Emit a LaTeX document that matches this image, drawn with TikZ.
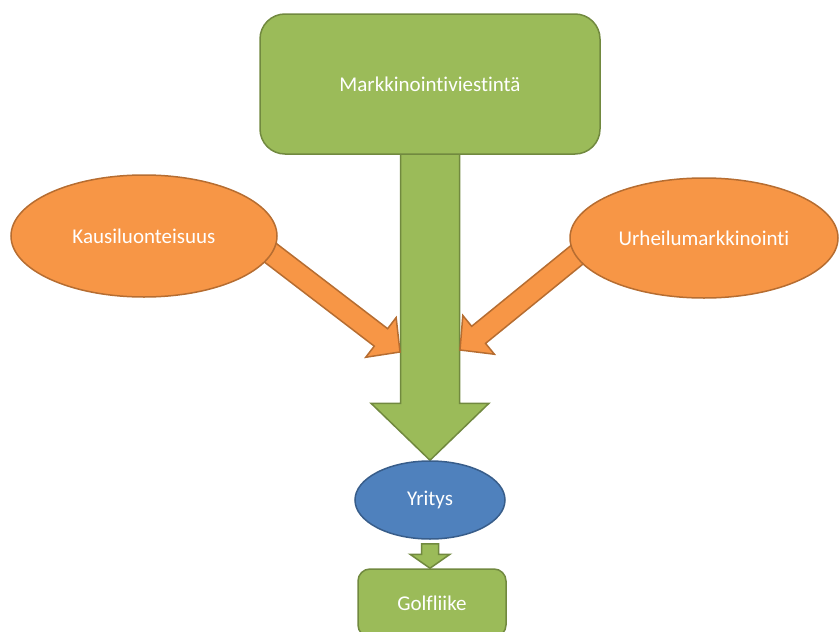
\documentclass[tikz,border=0pt]{standalone}
\usepackage{fontspec}
\setmainfont[Ligatures={NoCommon,NoContextual}]{Carlito}
\usetikzlibrary{shapes.geometric,calc,backgrounds}

\definecolor{leafgreen}{HTML}{9BBB59}
\definecolor{leafdark}{HTML}{71893F}
\definecolor{peach}{HTML}{F79646}
\definecolor{peachdark}{HTML}{B66D31}
\definecolor{steelblue}{HTML}{4F81BD}
\definecolor{steeldark}{HTML}{385D8A}

% block arrow: style, from, to, half shaft, half head, head length
\newcommand{\blockarrow}[6]{%
  \path[#1] let \p1=#2, \p2=#3, \n1={atan2(\y2-\y1,\x2-\x1)}, \n2={veclen(\x2-\x1,\y2-\y1)} in
    [shift={(\p1)}, rotate=\n1]
    (0pt,-#4) -- ({\n2-#6},-#4) -- ({\n2-#6},-#5) -- (\n2,0pt)
    -- ({\n2-#6},#5) -- ({\n2-#6},#4) -- (0pt,#4) -- cycle;
}

\tikzset{
  greenbox/.style={draw=leafdark, fill=leafgreen, line width=1.5pt, text=white},
  orangeell/.style={ellipse, draw=peachdark, fill=peach, line width=1.5pt, text=white, inner sep=0pt},
  blueell/.style={ellipse, draw=steeldark, fill=steelblue, line width=1.5pt, text=white, inner sep=0pt},
  greenarrow/.style={draw=leafdark, fill=leafgreen, line width=1.5pt, line join=miter},
  orangearrow/.style={draw=peachdark, fill=peach, line width=1.5pt, line join=miter}
}

\begin{document}
\begin{tikzpicture}[x=1pt, y=-1pt, font=\fontsize{21}{25}\selectfont]
    \useasboundingbox (0,0) rectangle (839,632);

    % Boxes and ellipses
    \node[greenbox, minimum width=340pt, minimum height=140pt, rounded corners=25pt] (viesti) at (430,84) {Markkinointiviestintä};
    \node[orangeell, minimum width=266pt, minimum height=122pt] (kausi) at (144,236) {Kausiluonteisuus};
    \node[orangeell, minimum width=268pt, minimum height=120pt] (urheilu) at (704,238) {Urheilumarkkinointi};
    \node[blueell, minimum width=150pt, minimum height=78pt] (yritys) at (430,500) {Yritys};
    \node[greenbox, minimum width=148pt, minimum height=68pt, rounded corners=12pt] (golf) at (432,603) {Golfliike};

    % Tips of the side arrows
    \coordinate (vasenkarki) at (400,352);
    \coordinate (oikeakarki) at (460,350);

    % Block arrows behind the shapes
    \begin{pgfonlayer}{background}
        \blockarrow{greenarrow}{($(viesti.south)+(0,-6)$)}{(yritys.north)}{29.5pt}{59pt}{57pt}
        \blockarrow{orangearrow}{($(kausi.-8)!-8pt!(vasenkarki)$)}{(vasenkarki)}{11pt}{25pt}{24pt}
        \blockarrow{orangearrow}{($(urheilu.188)!-8pt!(oikeakarki)$)}{(oikeakarki)}{11pt}{25pt}{24pt}
        \blockarrow{greenarrow}{($(yritys.south)+(0,4)$)}{(yritys.south |- golf.north)}{8.5pt}{20pt}{14pt}
    \end{pgfonlayer}
\end{tikzpicture}
\end{document}
